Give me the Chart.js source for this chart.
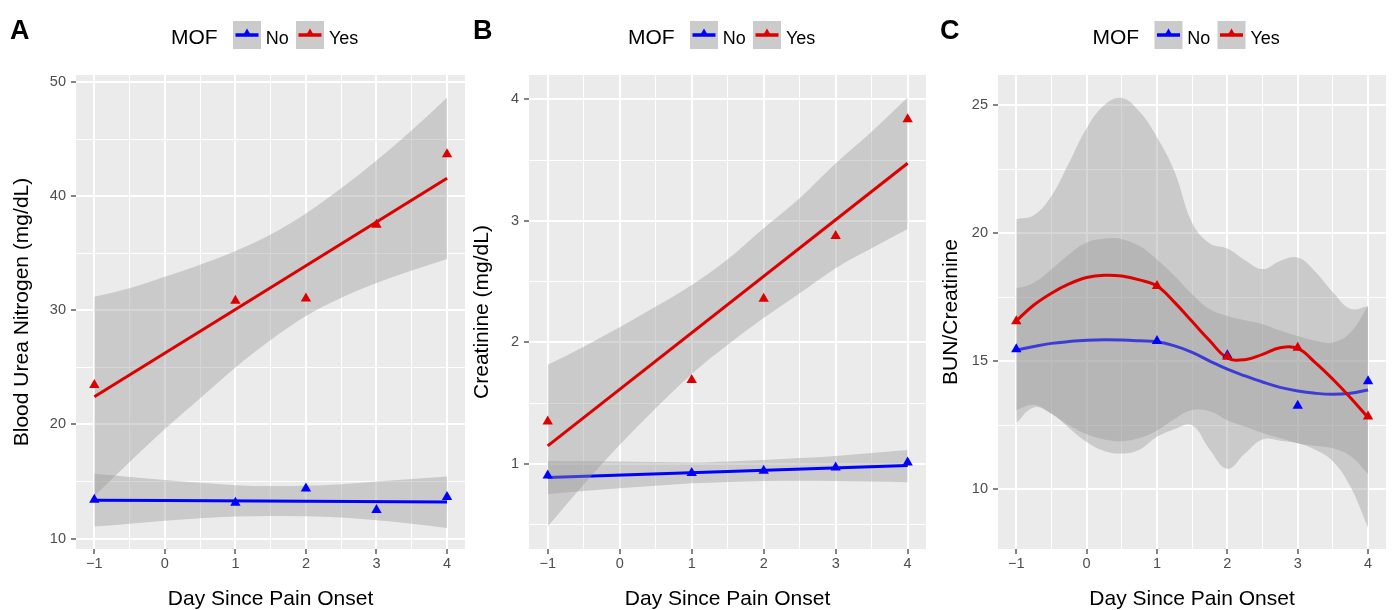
<!DOCTYPE html>
<html lang="en">
<head>
<meta charset="UTF-8">
<title>BUN, Creatinine and BUN/Creatinine by MOF</title>
<script src="https://cdn.jsdelivr.net/npm/chart.js"></script>
<style>
  body { margin: 0; background: #fff; }
  #wrap { position: relative; width: 1393px; height: 610px; }
  canvas { position: absolute; top: 0; }
</style>
</head>
<body>
<div id="wrap">
  <canvas id="chartA" width="474" height="610" style="left:0"></canvas>
  <canvas id="chartB" width="464" height="610" style="left:468px"></canvas>
  <canvas id="chartC" width="461" height="610" style="left:932px"></canvas>
</div>
<script>
// values
const legendTitle = 'MOF';
const groups = ['No', 'Yes'];
const xTitle = 'Day Since Pain Onset';

const days = [-1, 1, 2, 3, 4];
const fitX = [-1, 4];
const bandX = [-1, -0.5, 0, 0.5, 1, 1.5, 2, 2.5, 3, 3.5, 4];
const smoothX = [-1, -0.75, -0.5, -0.25, 0, 0.25, 0.5, 0.75, 1, 1.25, 1.5, 1.75, 2, 2.25, 2.5, 2.75, 3, 3.25, 3.5, 3.75, 4];

const xTicks = [-1, -0.5, 0, 0.5, 1, 1.5, 2, 2.5, 3, 3.5, 4];
const xMajor = [-1, 0, 1, 2, 3, 4];

// A: blood urea nitrogen
const bunYes = [23.45, 30.85, 31.05, 37.5, 43.7];
const bunNo = [13.39, 13.13, 14.39, 12.49, 13.63];
const bunYesFit = [22.43, 41.58];
const bunNoFit = [13.36, 13.19];
const bunYesUp = [31.2, 31.95, 32.95, 34.0, 35.2, 36.65, 38.5, 40.7, 43.15, 45.8, 48.65];
const bunYesLo = [13.7, 16.7, 19.6, 22.3, 25.0, 27.4, 29.5, 31.1, 32.4, 33.5, 34.5];
const bunNoUp = [15.67, 15.4, 15.12, 14.88, 14.68, 14.6, 14.62, 14.75, 15.0, 15.22, 15.44];
const bunNoLo = [11.05, 11.3, 11.55, 11.78, 11.93, 11.98, 11.95, 11.85, 11.6, 11.3, 10.93];
const bunTicks = [10, 15, 20, 25, 30, 35, 40, 45, 50];
const bunMajor = [10, 20, 30, 40, 50];

// B: creatinine
const creaYes = [1.35, 1.69, 2.36, 2.876, 3.835];
const creaNo = [0.904, 0.926, 0.943, 0.97, 1.011];
const creaYesFit = [1.148, 3.474];
const creaNoFit = [0.888, 0.987];
const creaYesUp = [1.815, 1.965, 2.125, 2.295, 2.473, 2.684, 2.94, 3.186, 3.474, 3.734, 4.014];
const creaYesLo = [0.485, 0.83, 1.157, 1.458, 1.74, 1.98, 2.2, 2.404, 2.61, 2.774, 2.933];
const creaNoUp = [1.025, 1.022, 1.02, 1.015, 1.011, 1.02, 1.033, 1.048, 1.066, 1.09, 1.115];
const creaNoLo = [0.753, 0.777, 0.8, 0.82, 0.84, 0.852, 0.86, 0.862, 0.86, 0.856, 0.85];
const creaTicks = [0.5, 1, 1.5, 2, 2.5, 3, 3.5, 4];
const creaMajor = [1, 2, 3, 4];

// C: BUN/creatinine (loess)
const ratioYes = [16.56, 17.94, 15.18, 15.53, 12.84];
const ratioNo = [15.47, 15.79, 15.24, 13.26, 14.22];
const ratioYesFit = [16.58, 17.2, 17.66, 18.02, 18.27, 18.36, 18.33, 18.18, 17.94, 17.3, 16.55, 15.8, 15.13, 15.06, 15.27, 15.53, 15.5, 14.95, 14.3, 13.58, 12.8];
const ratioNoFit = [15.44, 15.58, 15.7, 15.77, 15.82, 15.84, 15.83, 15.8, 15.76, 15.6, 15.35, 15.01, 14.69, 14.43, 14.19, 13.98, 13.84, 13.75, 13.71, 13.75, 13.88];
const ratioYesUp = [20.55, 20.7, 21.45, 22.75, 24.1, 25.0, 25.28, 24.75, 23.75, 22.4, 20.4, 19.6, 19.4, 18.95, 18.6, 18.92, 19.05, 18.5, 17.7, 17.05, 17.15];
const ratioYesLo = [12.6, 13.2, 12.95, 12.4, 11.85, 11.5, 11.4, 11.55, 12.05, 12.35, 12.5, 11.55, 10.8, 11.4, 11.95, 11.9, 11.8, 11.55, 11.1, 10.1, 8.5];
const ratioNoUp = [17.84, 18.07, 18.59, 19.18, 19.64, 19.79, 19.77, 19.5, 18.98, 18.33, 17.62, 17.03, 16.77, 16.6, 16.45, 16.2, 15.99, 15.8, 15.73, 16.12, 17.16];
const ratioNoLo = [13.1, 13.3, 12.95, 12.5, 12.15, 11.95, 11.88, 12.0, 12.3, 12.75, 13.1, 13.05, 12.7, 12.45, 12.2, 12.0, 11.8, 11.7, 11.6, 11.3, 10.6];
const ratioTicks = [10, 12.5, 15, 17.5, 20, 22.5, 25];
const ratioMajor = [10, 15, 20, 25];

const RED = '#dd0000';
const BLUE = '#0000ff';
const BAND = 'rgba(153,153,153,0.4)';
const FONT = '"Liberation Sans", Arial, Helvetica, sans-serif';

function pts(xs, ys) {
  return xs.map((x, i) => ({ x: x, y: ys[i] }));
}

function fmt(v) {
  return v < 0 ? '\u2212' + Math.abs(v) : String(v);
}

function drawKey(ctx, x, color) {
  ctx.fillStyle = '#cbcbcb';
  ctx.fillRect(x, 21, 28, 28);
  ctx.strokeStyle = color;
  ctx.lineWidth = 3.5;
  ctx.beginPath();
  ctx.moveTo(x + 2.5, 35);
  ctx.lineTo(x + 25.5, 35);
  ctx.stroke();
  const cx = x + 14, cy = 33.5, r = 5;
  ctx.fillStyle = color;
  ctx.beginPath();
  ctx.moveTo(cx, cy - r);
  ctx.lineTo(cx + r * 0.866, cy + r / 2);
  ctx.lineTo(cx - r * 0.866, cy + r / 2);
  ctx.closePath();
  ctx.fill();
}

function decor(p) {
  return {
    id: 'decor',
    beforeDraw(chart) {
      const a = chart.chartArea, ctx = chart.ctx;
      ctx.save();
      ctx.fillStyle = '#ebebeb';
      ctx.fillRect(a.left, a.top, a.right - a.left, a.bottom - a.top);
      ctx.restore();
    },
    afterDraw(chart) {
      const a = chart.chartArea, ctx = chart.ctx;
      ctx.save();
      ctx.textBaseline = 'alphabetic';
      ctx.fillStyle = '#000';
      ctx.font = 'bold 27px ' + FONT;
      ctx.fillText(p.letter, p.letterX, 39);

      // legend, centred over the panel
      const s = (a.left + a.right) / 2 - 99.5;
      ctx.font = '21px ' + FONT;
      ctx.fillText(legendTitle, s, 44);
      drawKey(ctx, s + 62, BLUE);
      drawKey(ctx, s + 125, RED);
      ctx.fillStyle = '#000';
      ctx.font = '18px ' + FONT;
      ctx.fillText(groups[0], s + 94.7, 44);
      ctx.fillText(groups[1], s + 158, 44);
      ctx.restore();
    }
  };
}

function gridOpts(major) {
  const isMajor = c => c.tick && major.includes(c.tick.value);
  return {
    color: '#ffffff',
    lineWidth: c => (isMajor(c) ? 2 : 1),
    tickLength: 5,
    tickWidth: 1.2,
    tickColor: c => (isMajor(c) ? '#333333' : 'rgba(0,0,0,0)')
  };
}

function panel(id, p) {
  const line = { pointRadius: 0, pointHoverRadius: 0, fill: false, tension: p.tension, cubicInterpolationMode: p.interp };
  const bandLine = Object.assign({}, line, { borderWidth: 0, borderColor: 'rgba(0,0,0,0)', backgroundColor: BAND });
  const datasets = [
    { data: pts(days, p.yes), showLine: false, pointStyle: 'triangle', pointRadius: 6, pointHoverRadius: 6,
      backgroundColor: RED, borderColor: RED, borderWidth: 0, order: 1 },
    { data: pts(days, p.no), showLine: false, pointStyle: 'triangle', pointRadius: 6, pointHoverRadius: 6,
      backgroundColor: BLUE, borderColor: BLUE, borderWidth: 0, order: 2 },
    Object.assign({}, line, { data: pts(p.lineX, p.yesFit), borderColor: RED, borderWidth: 3, order: 3 }),
    Object.assign({}, bandLine, { data: pts(p.bandX, p.yesUp), fill: 4, order: 4 }),
    Object.assign({}, bandLine, { data: pts(p.bandX, p.yesLo), order: 4 }),
    Object.assign({}, line, { data: pts(p.lineX, p.noFit), borderColor: BLUE, borderWidth: 3, order: 5 }),
    Object.assign({}, bandLine, { data: pts(p.bandX, p.noUp), fill: 7, order: 6 }),
    Object.assign({}, bandLine, { data: pts(p.bandX, p.noLo), order: 6 })
  ];

  return new Chart(document.getElementById(id), {
    type: 'line',
    data: { datasets: datasets },
    options: {
      responsive: false,
      animation: false,
      devicePixelRatio: 1,
      events: [],
      layout: { padding: { top: 75, left: 0, bottom: 0, right: p.width - p.plotRight } },
      plugins: { legend: { display: false }, tooltip: { enabled: false } },
      scales: {
        x: {
          type: 'linear',
          min: -1.26,
          max: 4.255,
          afterBuildTicks: s => { s.ticks = xTicks.map(v => ({ value: v })); },
          afterFit: s => { s.height = 61; },
          grid: gridOpts(xMajor),
          border: { display: false },
          ticks: {
            autoSkip: false, maxRotation: 0, padding: 1, color: '#4d4d4d',
            font: { family: FONT, size: 14.5 },
            callback: v => (xMajor.includes(v) ? fmt(v) : '')
          },
          title: {
            display: true, text: xTitle, color: '#000',
            font: { family: FONT, size: 21 }, padding: { top: 0, bottom: -1.5 }
          }
        },
        y: {
          type: 'linear',
          min: p.yMin,
          max: p.yMax,
          afterBuildTicks: s => { s.ticks = p.yTicks.map(v => ({ value: v })); },
          afterFit: s => { s.width = p.plotLeft; },
          grid: gridOpts(p.yMajor),
          border: { display: false },
          ticks: {
            autoSkip: false, padding: 5, color: '#4d4d4d',
            font: { family: FONT, size: 14.5 },
            callback: v => (p.yMajor.includes(v) ? fmt(v) : '')
          },
          title: {
            display: true, text: p.yTitle, color: '#000',
            font: { family: FONT, size: 21 }, padding: { top: p.yTitlePad, bottom: 0 }
          }
        }
      }
    },
    plugins: [decor(p)]
  });
}

panel('chartA', {
  letter: 'A', letterX: 10, width: 474, plotLeft: 76, plotRight: 465,
  yMin: 9.08, yMax: 50.64, yTicks: bunTicks, yMajor: bunMajor,
  yTitle: 'Blood Urea Nitrogen (mg/dL)', yTitlePad: 9.4,
  tension: 0.4, interp: 'monotone',
  yes: bunYes, no: bunNo, lineX: fitX, yesFit: bunYesFit, noFit: bunNoFit,
  bandX: bandX, yesUp: bunYesUp, yesLo: bunYesLo, noUp: bunNoUp, noLo: bunNoLo
});

panel('chartB', {
  letter: 'B', letterX: 5, width: 464, plotLeft: 61, plotRight: 458,
  yMin: 0.30, yMax: 4.2, yTicks: creaTicks, yMajor: creaMajor,
  yTitle: 'Creatinine (mg/dL)', yTitlePad: 2.1,
  tension: 0.4, interp: 'monotone',
  yes: creaYes, no: creaNo, lineX: fitX, yesFit: creaYesFit, noFit: creaNoFit,
  bandX: bandX, yesUp: creaYesUp, yesLo: creaYesLo, noUp: creaNoUp, noLo: creaNoLo
});

panel('chartC', {
  letter: 'C', letterX: 8, width: 461, plotLeft: 66, plotRight: 454,
  yMin: 7.67, yMax: 26.18, yTicks: ratioTicks, yMajor: ratioMajor,
  yTitle: 'BUN/Creatinine', yTitlePad: 6.4,
  tension: 0.4, interp: 'default',
  yes: ratioYes, no: ratioNo, lineX: smoothX, yesFit: ratioYesFit, noFit: ratioNoFit,
  bandX: smoothX, yesUp: ratioYesUp, yesLo: ratioYesLo, noUp: ratioNoUp, noLo: ratioNoLo
});
</script>
</body>
</html>
